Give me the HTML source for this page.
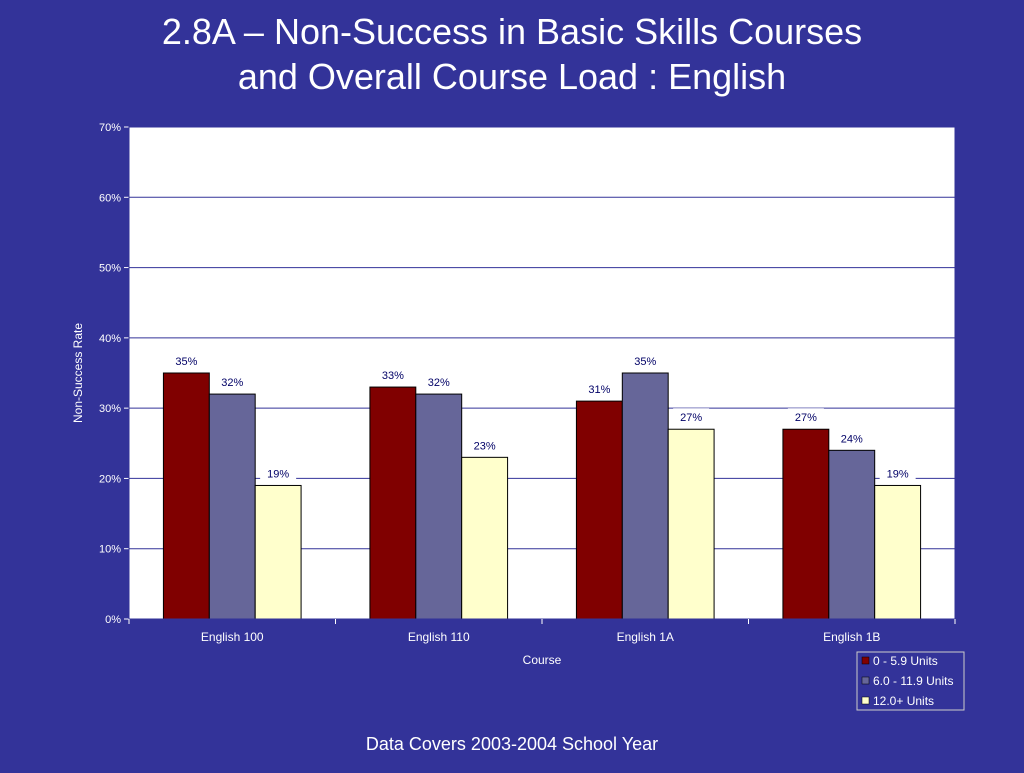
<!DOCTYPE html>
<html><head><meta charset="utf-8"><style>
body{margin:0;background:#333399;width:1024px;height:768px;overflow:hidden;font-family:"Liberation Sans",sans-serif}
</style></head><body>
<svg width="1024" height="768" xmlns="http://www.w3.org/2000/svg">
<text x="512" y="44" text-anchor="middle" fill="#fff" font-size="36">2.8A – Non-Success in Basic Skills Courses</text>
<text x="512" y="89" text-anchor="middle" fill="#fff" font-size="36">and Overall Course Load : English</text>
<rect x="129" y="127" width="826" height="492" fill="#fff"/>
<g id="grid"></g>
<g id="bars"></g>
<g id="axes"></g>
<text x="542" y="664" text-anchor="middle" fill="#fff" font-size="12">Course</text>
<text transform="translate(82,373) rotate(-90)" text-anchor="middle" fill="#fff" font-size="12">Non-Success Rate</text>
<g>
<rect x="857" y="652" width="107" height="58" fill="none" stroke="#ccc" stroke-width="1"/>
<g><rect x="862" y="657" width="7" height="7" fill="#800000" stroke="#000" stroke-width="0.5"/><text x="873" y="665" fill="#fff" font-size="12">0 - 5.9 Units</text></g>
<g><rect x="862" y="677" width="7" height="7" fill="#666699" stroke="#000" stroke-width="0.5"/><text x="873" y="685" fill="#fff" font-size="12">6.0 - 11.9 Units</text></g>
<g><rect x="862" y="697" width="7" height="7" fill="#ffffcc" stroke="#000" stroke-width="0.5"/><text x="873" y="705" fill="#fff" font-size="12">12.0+ Units</text></g>
</g>
<text x="512" y="750" text-anchor="middle" fill="#fff" font-size="18">Data Covers 2003-2004 School Year</text>
</svg>
<script>
const categories=["English 100","English 110","English 1A","English 1B"];
const seriesLow=[35,33,31,27];
const seriesMid=[32,32,35,24];
const seriesHigh=[19,23,27,19];
const yTicks=[0,10,20,30,40,50,60,70];
const seriesNames=["0-5.9","6.0-11.9","12.0plus"];
const colors=["#800000","#666699","#ffffcc"];
const NS="http://www.w3.org/2000/svg";
const L=129,R=955,T=127,B=619,YMAX=70;
const y=v=>B-(v/YMAX)*(B-T);
const gw=(R-L)/categories.length, bw=gw/4.5;
function mk(tag,attrs,parent,txt){const e=document.createElementNS(NS,tag);for(const k in attrs)e.setAttribute(k,attrs[k]);if(txt!==undefined)e.textContent=txt;parent.appendChild(e);return e;}
const grid=document.getElementById('grid'),bars=document.getElementById('bars'),axes=document.getElementById('axes');
yTicks.forEach(t=>{
  if(t>0){const g=mk('line',{x1:L,x2:R,y1:y(t),y2:y(t),stroke:'#333399','stroke-width':1},grid);
  
  }
  mk('line',{x1:L-5,x2:L,y1:y(t),y2:y(t),stroke:'#fff'},axes);
  const lb=mk('text',{x:L-8,y:y(t)+4,'text-anchor':'end',fill:'#fff','font-size':11},axes,t+'%');
  
  
});
mk('line',{x1:L,x2:L,y1:T,y2:B,stroke:'#fff'},axes);
mk('line',{x1:L,x2:R,y1:B,y2:B,stroke:'#fff'},axes);
mk('rect',{x:L,y:T,width:R-L,height:B-T,fill:'none',stroke:'#333399'},axes);
for(let i=0;i<=categories.length;i++){mk('line',{x1:L+i*gw,x2:L+i*gw,y1:B,y2:B+5,stroke:'#fff'},axes);}
const all=[seriesLow,seriesMid,seriesHigh];
categories.forEach((c,i)=>{
  const cl=mk('text',{x:L+gw*(i+0.5),y:B+22,'text-anchor':'middle',fill:'#fff','font-size':12},axes,c);
  
  
  all.forEach((s,j)=>{
    const x=L+gw*i+bw*0.75+bw*j, v=s[i];
    const r=mk('rect',{x:x,y:y(v),width:bw,height:B-y(v),fill:colors[j],stroke:'#000','stroke-width':1},bars);
    
    
    const lbg=mk('rect',{x:x+bw/2-18,y:y(v)-21,width:36,height:15,fill:'#fff'},bars);
    const t=mk('text',{x:x+bw/2,y:y(v)-8,'text-anchor':'middle',fill:'#000066','font-size':11},bars,v+'%');
    
    
  });
});
</script>
</body></html>
